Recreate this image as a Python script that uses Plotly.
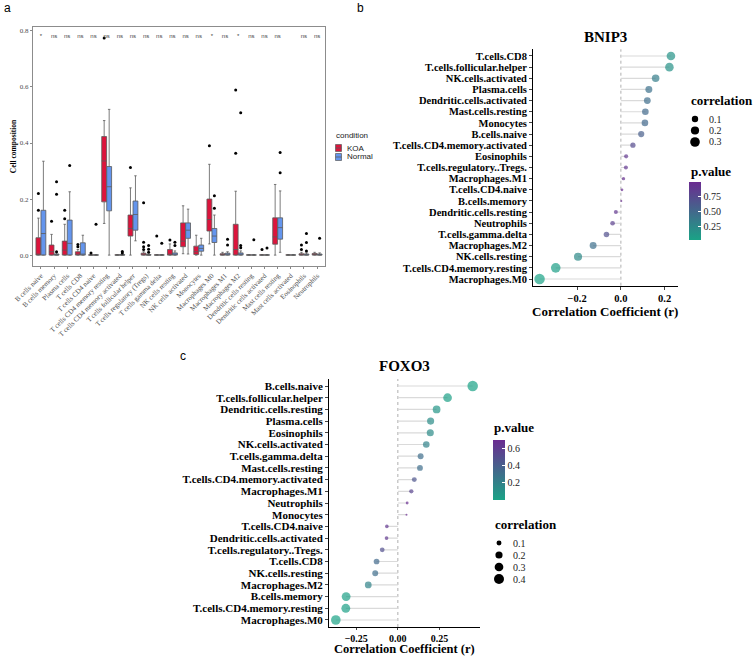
import plotly.graph_objects as go

W, H = 753, 656
SERIF = "Liberation Serif"
SANS = "Liberation Sans"

# ---------------- panel a : immune cell composition, KOA vs Normal ----------------
cell_types = [
    "B cells naive", "B cells memory", "Plasma cells", "T cells CD8", "T cells CD4 naive",
    "T cells CD4 memory resting", "T cells CD4 memory activated", "T cells follicular helper",
    "T cells regulatory (Tregs)", "T cells gamma delta", "NK cells resting", "NK cells activated",
    "Monocytes", "Macrophages M0", "Macrophages M1", "Macrophages M2", "Dendritic cells resting",
    "Dendritic cells activated", "Mast cells resting", "Mast cells activated", "Eosinophils",
    "Neutrophils",
]

koa_q1 = [0, 0, 0, 0, 0, 0.190, 0, 0.068, 0, 0, 0, 0.030, 0.002, 0.086, 0, 0, 0, 0, 0.039, 0, 0, 0]
koa_med = [0.002, 0.012, 0.018, 0.002, 0, 0.336, 0, 0.095, 0.002, 0, 0.002, 0.050, 0.012, 0.127, 0.001, 0.020, 0, 0, 0.065, 0, 0.001, 0.002]
koa_q3 = [0.062, 0.036, 0.050, 0.012, 0.001, 0.423, 0.001, 0.143, 0.007, 0.001, 0.020, 0.115, 0.032, 0.200, 0.005, 0.110, 0.001, 0.001, 0.133, 0.001, 0.005, 0.006]
koa_lo = [0, 0, 0, 0, 0, 0.113, 0, 0.0, 0, 0, 0, 0.005, 0, 0.040, 0, 0, 0, 0, 0.0, 0, 0, 0]
koa_hi = [0.132, 0.074, 0.110, 0.020, 0.002, 0.480, 0.002, 0.240, 0.012, 0.002, 0.040, 0.176, 0.071, 0.324, 0.010, 0.228, 0.002, 0.002, 0.252, 0.002, 0.010, 0.010]
koa_out_cat = [0, 0, 1, 2, 2, 3, 3, 4, 5, 7, 8, 8, 8, 8, 9, 10, 13, 15, 15, 17, 20, 20]
koa_out_val = [0.220, 0.160, 0.121, 0.160, 0.130, 0.038, 0.030, 0.008, 0.775, 0.313, 0.187, 0.046, 0.030, 0.020, 0.068, 0.054, 0.390, 0.589, 0.363, 0.020, 0.036, 0.020]

nor_q1 = [0, 0, 0, 0, 0, 0.158, 0, 0.089, 0, 0, 0, 0.060, 0.014, 0.045, 0, 0, 0, 0, 0.057, 0, 0, 0]
nor_med = [0.077, 0.001, 0.042, 0.001, 0, 0.244, 0, 0.145, 0, 0, 0.002, 0.089, 0.024, 0.068, 0.002, 0.003, 0, 0, 0.098, 0, 0.001, 0.001]
nor_q3 = [0.160, 0.004, 0.125, 0.044, 0.001, 0.316, 0.002, 0.193, 0.002, 0.001, 0.008, 0.115, 0.036, 0.095, 0.007, 0.008, 0.001, 0.001, 0.133, 0.001, 0.004, 0.004]
nor_lo = [0, 0, 0, 0, 0, 0.0, 0, 0.051, 0, 0, 0, 0.004, 0, 0.0, 0, 0, 0, 0, 0.010, 0, 0, 0]
nor_hi = [0.335, 0.008, 0.226, 0.071, 0.002, 0.520, 0.004, 0.283, 0.004, 0.002, 0.015, 0.164, 0.060, 0.143, 0.012, 0.015, 0.002, 0.002, 0.229, 0.002, 0.008, 0.008]
nor_out_cat = [1, 1, 1, 2, 4, 6, 6, 8, 8, 8, 9, 10, 10, 13, 13, 14, 14, 15, 15, 15, 16, 17, 18, 18, 20, 20, 20, 21]
nor_out_val = [0.262, 0.217, 0.012, 0.320, 0.110, 0.008, 0.013, 0.034, 0.021, 0.010, 0.042, 0.046, 0.034, 0.212, 0.167, 0.057, 0.036, 0.508, 0.034, 0.026, 0.055, 0.025, 0.366, 0.294, 0.077, 0.045, 0.015, 0.060]

sig_labels = ["*", "ns", "ns", "ns", "ns", "ns", "ns", "ns", "ns", "ns", "ns", "ns", "ns",
              "*", "ns", "*", "ns", "ns", "ns", "", "ns", "ns"]
sig_y = 0.78

# ---------------- panel b : BNIP3 correlation ----------------
bnip3_cells = [
    "T.cells.CD8", "T.cells.follicular.helper", "NK.cells.activated", "Plasma.cells",
    "Dendritic.cells.activated", "Mast.cells.resting", "Monocytes", "B.cells.naive",
    "T.cells.CD4.memory.activated", "Eosinophils", "T.cells.regulatory..Tregs.", "Macrophages.M1",
    "T.cells.CD4.naive", "B.cells.memory", "Dendritic.cells.resting", "Neutrophils",
    "T.cells.gamma.delta", "Macrophages.M2", "NK.cells.resting", "T.cells.CD4.memory.resting",
    "Macrophages.M0",
]
bnip3_r = [0.229, 0.222, 0.159, 0.128, 0.121, 0.112, 0.110, 0.093, 0.055, 0.024, 0.023, 0.012,
           0.005, 0.002, -0.023, -0.038, -0.066, -0.127, -0.196, -0.298, -0.372]
bnip3_p = [0.15, 0.17, 0.33, 0.43, 0.46, 0.49, 0.50, 0.57, 0.74, 0.88, 0.89, 0.94,
           0.97, 0.99, 0.89, 0.82, 0.69, 0.44, 0.23, 0.06, 0.02]

# ---------------- panel c : FOXO3 correlation ----------------
foxo3_cells = [
    "B.cells.naive", "T.cells.follicular.helper", "Dendritic.cells.resting", "Plasma.cells",
    "Eosinophils", "NK.cells.activated", "T.cells.gamma.delta", "Mast.cells.resting",
    "T.cells.CD4.memory.activated", "Macrophages.M1", "Neutrophils", "Monocytes",
    "T.cells.CD4.naive", "Dendritic.cells.activated", "T.cells.regulatory..Tregs.", "T.cells.CD8",
    "NK.cells.resting", "Macrophages.M2", "B.cells.memory", "T.cells.CD4.memory.resting",
    "Macrophages.M0",
]
foxo3_r = [0.450, 0.299, 0.233, 0.197, 0.195, 0.171, 0.137, 0.133, 0.099, 0.081, 0.056, 0.052,
           -0.066, -0.068, -0.094, -0.128, -0.136, -0.178, -0.311, -0.313, -0.373]
foxo3_p = [0.0004, 0.024, 0.081, 0.14, 0.15, 0.20, 0.31, 0.32, 0.46, 0.55, 0.68, 0.70,
           0.63, 0.62, 0.49, 0.34, 0.31, 0.19, 0.019, 0.018, 0.004]

size_breaks_b = [0.1, 0.2, 0.3]
size_breaks_c = [0.1, 0.2, 0.3, 0.4]

KOA_COL = "#DC143C"
NOR_COL = "#6495ED"
P_SCALE = [[0, "#1AA386"], [1, "#6B2C91"]]


def px_x(v):
    return v / W


def px_y(v):
    return 1 - v / H


def dot_size(v, lo, hi, dmin=2.0, dmax=10.5):
    t = max((abs(v) - lo) / (hi - lo), 0)
    return dmin + (dmax - dmin) * t ** 0.5


def note(x, y, text, size, family=SERIF, bold=False, anchor="left", color="black"):
    fig.add_annotation(x=px_x(x), y=px_y(y), xref="paper", yref="paper", text=text, showarrow=False,
                       xanchor=anchor, yanchor="middle",
                       font=dict(family=family, size=size, color=color,
                                 weight="bold" if bold else "normal"))


fig = go.Figure()

# ---- a
n = len(cell_types)
pos = list(range(n))
for name, col, off, q1, med, q3, lo, hi, oc, ov in [
    ("KOA", KOA_COL, -0.19, koa_q1, koa_med, koa_q3, koa_lo, koa_hi, koa_out_cat, koa_out_val),
    ("Normal", NOR_COL, 0.19, nor_q1, nor_med, nor_q3, nor_lo, nor_hi, nor_out_cat, nor_out_val),
]:
    fig.add_trace(go.Box(
        x=[p + off for p in pos], q1=q1, median=med, q3=q3, lowerfence=lo, upperfence=hi,
        orientation="v", width=0.37, fillcolor=col, line=dict(color="#5a5a5a", width=0.8),
        name=name, showlegend=False, boxpoints=False, xaxis="x", yaxis="y", hoverinfo="skip",
    ))
    fig.add_trace(go.Scatter(
        x=[c + off for c in oc], y=ov, mode="markers", marker=dict(color="black", size=3),
        showlegend=False, xaxis="x", yaxis="y", hoverinfo="skip",
    ))

fig.add_trace(go.Scatter(
    x=pos, y=[sig_y] * n, text=sig_labels, mode="text",
    textfont=dict(family=SANS, size=6, color="#444444"),
    showlegend=False, xaxis="x", yaxis="y", hoverinfo="skip",
))


# ---- b & c lollipops
def lollipop(cells, r, p, xa, ya, cax):
    lo, hi = min(abs(v) for v in r), max(abs(v) for v in r)
    sx, sy = [], []
    for c, v in zip(cells, r):
        sx += [0, v, None]
        sy += [c, c, None]
    fig.add_trace(go.Scatter(x=sx, y=sy, mode="lines", line=dict(color="#DADADA", width=1.2),
                             showlegend=False, xaxis=xa, yaxis=ya, hoverinfo="skip"))
    fig.add_trace(go.Scatter(
        x=r, y=cells, mode="markers",
        marker=dict(size=[dot_size(v, lo, hi) for v in r], color=p, coloraxis=cax, line=dict(width=0)),
        showlegend=False, xaxis=xa, yaxis=ya,
    ))
    return lo, hi


b_lo, b_hi = lollipop(bnip3_cells, bnip3_r, bnip3_p, "x2", "y2", "coloraxis")
c_lo, c_hi = lollipop(foxo3_cells, foxo3_r, foxo3_p, "x3", "y3", "coloraxis2")

bold_tick = dict(family=SERIF, size=10.5, color="black", weight="bold")
ax_title = dict(family=SERIF, size=13, color="black", weight="bold")


def pval_bar(x, y, length, tickvals, ticktext):
    return dict(
        x=x, xanchor="left", y=y, yanchor="middle", len=length, lenmode="pixels",
        thickness=12, thicknessmode="pixels", outlinewidth=0, xpad=0, ypad=0,
        ticks="inside", ticklen=3, tickcolor="white", tickvals=tickvals, ticktext=ticktext,
        tickfont=dict(family=SERIF, size=10, color="#222222"), title=dict(text=""),
    )


fig.update_layout(
    width=W, height=H, margin=dict(l=0, r=0, t=0, b=0, autoexpand=False),
    paper_bgcolor="white", plot_bgcolor="white", showlegend=False,
    xaxis=dict(
        domain=[px_x(33), px_x(325)], range=[-0.6, n - 0.4], tickvals=pos, ticktext=cell_types,
        tickangle=-45, tickfont=dict(family=SERIF, size=7, color="#4d4d4d"),
        ticks="outside", ticklen=2, tickcolor="#888888", showline=True, linecolor="#8c8c8c",
        linewidth=1, mirror=True, showgrid=False, zeroline=False, anchor="y",
    ),
    yaxis=dict(
        domain=[px_y(266), px_y(27)], range=[-0.0388, 0.8138], tickvals=[0, 0.2, 0.4, 0.6, 0.8],
        tickformat=".1f", tickfont=dict(family=SERIF, size=7, color="#4d4d4d"),
        ticks="outside", ticklen=2, tickcolor="#888888", showline=True, linecolor="#8c8c8c",
        linewidth=1, mirror=True, showgrid=False, zeroline=False, anchor="x",
        title=dict(text="Cell composition", font=dict(family=SERIF, size=7.5, color="black", weight="bold"),
                   standoff=2),
    ),
    xaxis2=dict(
        domain=[px_x(533), px_x(677.5)], range=[-0.402, 0.259], tickvals=[-0.2, 0, 0.2], tickformat=".1f",
        tickfont=bold_tick, ticks="outside", ticklen=3, showline=True, linecolor="black", linewidth=1,
        showgrid=False, zeroline=False, anchor="y2",
        title=dict(text="Correlation Coefficient (r)", font=ax_title, standoff=2),
    ),
    yaxis2=dict(
        domain=[px_y(285.7), px_y(49.3)], categoryorder="array", categoryarray=bnip3_cells,
        tickmode="array", tickvals=bnip3_cells, ticktext=bnip3_cells,
        range=[len(bnip3_cells) - 0.4, -0.6], tickfont=bold_tick, ticks="outside", ticklen=3,
        showline=True, linecolor="black", linewidth=1, showgrid=False, zeroline=False, anchor="x2",
    ),
    xaxis3=dict(
        domain=[px_x(329), px_x(479.5)], range=[-0.414, 0.491], tickvals=[-0.25, 0, 0.25], tickformat=".2f",
        tickfont=dict(bold_tick, size=10), ticks="outside", ticklen=2, showline=True, linecolor="black",
        linewidth=1, showgrid=False, zeroline=False, anchor="y3",
        title=dict(text="Correlation Coefficient (r)", font=dict(ax_title, size=12.5), standoff=0),
    ),
    yaxis3=dict(
        domain=[px_y(627), px_y(379)], categoryorder="array", categoryarray=foxo3_cells,
        tickmode="array", tickvals=foxo3_cells, ticktext=foxo3_cells,
        range=[len(foxo3_cells) - 0.4, -0.6], tickfont=dict(bold_tick, size=11), ticks="outside",
        ticklen=3, showline=True, linecolor="black", linewidth=1, showgrid=False, zeroline=False,
        anchor="x3",
    ),
    coloraxis=dict(colorscale=P_SCALE, cmin=min(bnip3_p), cmax=max(bnip3_p),
                   colorbar=pval_bar(px_x(689), px_y(211), 58, [0.25, 0.5, 0.75], ["0.25", "0.50", "0.75"])),
    coloraxis2=dict(colorscale=P_SCALE, cmin=min(foxo3_p), cmax=max(foxo3_p),
                    colorbar=pval_bar(px_x(493), px_y(470), 60, [0.2, 0.4, 0.6], ["0.2", "0.4", "0.6"])),
)

# zero reference lines
for xa, ya in [("x2", "y2"), ("x3", "y3")]:
    fig.add_shape(type="line", xref=xa, yref=f"{ya} domain", x0=0, x1=0, y0=0, y1=1,
                  line=dict(color="#9a9a9a", width=0.8, dash="dot"), layer="below")

# ---- legend for panel a (condition)
note(334, 136, "condition", 8, family=SANS, color="#222222")
for (label, col), ky in zip([("KOA", KOA_COL), ("Normal", NOR_COL)], [148, 157]):
    fig.add_shape(type="rect", xref="paper", yref="paper", x0=px_x(335.5), x1=px_x(341.5),
                  y0=px_y(ky + 3.5), y1=px_y(ky - 3.5), fillcolor=col, line=dict(color="#5a5a5a", width=0.7))
    fig.add_shape(type="line", xref="paper", yref="paper", x0=px_x(335.5), x1=px_x(341.5),
                  y0=px_y(ky), y1=px_y(ky), line=dict(color="#5a5a5a", width=0.8))
    note(345, ky, label, 8, family=SANS, color="#222222")


# ---- size legends (correlation) for panels b and c
def size_legend(x, y_title, ys, breaks, lo, hi):
    note(x - 1, y_title, "correlation", 13, bold=True)
    for b, yy in zip(breaks, ys):
        d = dot_size(b, lo, hi)
        fig.add_shape(type="circle", xref="paper", yref="paper", xsizemode="pixel", ysizemode="pixel",
                      xanchor=px_x(x + 5), yanchor=px_y(yy), x0=-d / 2, x1=d / 2, y0=-d / 2, y1=d / 2,
                      fillcolor="black", line=dict(width=0))
        note(x + 17, yy, f"{b:.1f}", 10, color="#222222")


size_legend(690, 101, [119, 130.5, 142], size_breaks_b, b_lo, b_hi)
size_legend(494, 524, [543, 555, 567, 579], size_breaks_c, c_lo, c_hi)
note(689, 171, "p.value", 13, bold=True)
note(492, 427, "p.value", 13, bold=True)

# panel tags and titles
note(2, 8, "a", 12, family=SANS)
note(355, 8, "b", 12, family=SANS)
note(178, 356, "c", 12, family=SANS)
note(605, 37, "BNIP3", 15, bold=True, anchor="center")
note(404, 366, "FOXO3", 15, bold=True, anchor="center")

# drop the default 8px page margin so the figure sits at the window origin
fig.write_html("out.html", config={"displayModeBar": False},
               post_script="document.body.style.margin = '0';")
